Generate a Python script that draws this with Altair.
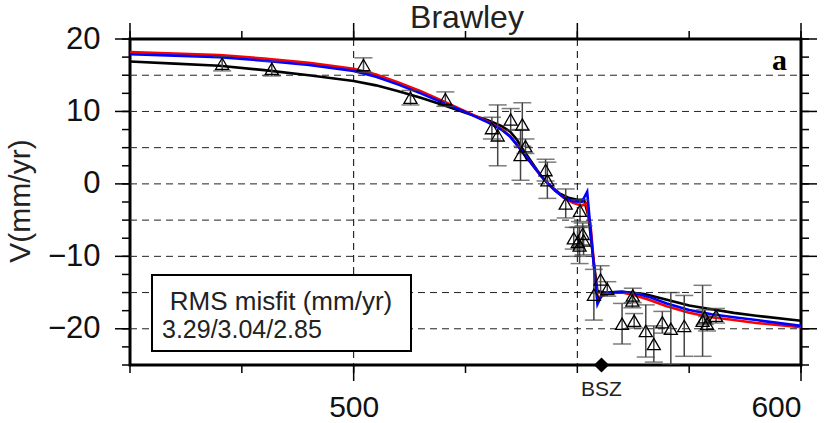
import altair as alt
import pandas as pd

# ---------------- data ----------------
TITLE = ["Brawley"]
Y_TITLE = ["V(mm/yr)"]
PANEL = ["a"]
BOX_HEAD = ["RMS misfit (mm/yr)"]
BOX_VALUES = ["3.29/3.04/2.85"]
BSZ_X = [555.4]
BSZ_LABEL = ["BSZ"]

obs_x = [470.6, 481.7, 502.2, 512.7, 520.5, 530.9, 532.2, 535.1, 537.7, 537.3,
         538.4, 542.9, 543.3, 547.4, 550.6, 549.2, 550.1, 551.2, 551.4, 550.5,
         553.7, 555.2, 556.7, 560.0, 562.7, 562.3, 562.4, 565.3, 567.1, 569.0,
         570.9, 573.9, 578.0, 578.5, 579.0, 581.0]
obs_v = [16.6, 15.9, 16.4, 11.9, 11.7, 7.7, 6.7, 8.9, 8.2, 4.0,
         5.2, 1.9, 0.5, -2.7, -3.7, -7.5, -8.0, -6.9, -7.8, -8.5,
         -15.3, -13.2, -14.5, -19.3, -18.9, -16.1, -15.4, -20.3, -22.1, -19.1,
         -20.0, -19.6, -18.9, -18.4, -19.3, -18.2]
obs_err = [1.0, 1.0, 1.0, 1.0, 1.0, 1.5, 4.2, 1.5, 3.0, 3.5,
           1.0, 1.5, 2.5, 2.0, 1.5, 1.5, 2.0, 1.5, 2.0, 2.5,
           3.5, 1.9, 1.0, 2.8, 1.0, 1.0, 1.0, 3.6, 2.5, 1.5,
           5.0, 4.2, 4.9, 1.0, 1.0, 1.0]

red_x = [450, 460, 470, 480, 490, 500, 505, 510, 515, 520, 525, 530, 533, 535, 537,
         539, 541, 543, 545, 547, 549, 551, 552, 553, 554, 554.6, 555.5, 557, 560,
         563, 566, 570, 575, 580, 585, 590, 600]
red_v = [18.2, 18.0, 17.8, 17.3, 16.7, 15.9, 15.1, 14.0, 12.8, 11.4, 10.0, 8.6, 7.6, 6.6, 5.0,
         3.4, 1.8, 0.3, -0.9, -1.9, -2.6, -3.0, -2.7, -6.0, -13.0, -16.0, -15.5, -15.1, -15.0,
         -15.4, -16.0, -16.9, -17.8, -18.4, -18.8, -19.2, -19.8]

blue_x = [450, 460, 470, 480, 490, 500, 505, 510, 515, 520, 525, 530, 533, 535, 537,
          539, 541, 543, 545, 547, 549, 551, 552.2, 553.3, 554.5, 555.5, 557, 560,
          563, 566, 570, 575, 580, 585, 590, 600]
blue_v = [17.9, 17.7, 17.5, 17.0, 16.4, 15.6, 14.8, 13.7, 12.5, 11.2, 9.9, 8.5, 7.5, 6.5, 5.0,
          3.4, 1.8, 0.3, -0.9, -1.9, -2.4, -2.5, -1.1, -8.7, -16.6, -15.3, -15.0, -14.9,
          -15.1, -15.6, -16.5, -17.4, -18.0, -18.4, -18.8, -19.6]

black_x = [450, 460, 470, 480, 490, 500, 505, 510, 515, 520, 525, 530, 533, 535, 536.5,
           538, 540, 542, 544, 546, 548, 550, 551.5, 552.5, 553.5, 554.5, 556, 560,
           565, 570, 575, 580, 585, 590, 600]
black_v = [16.9, 16.6, 16.3, 15.7, 15.0, 14.2, 13.6, 12.8, 11.9, 10.9, 9.8, 8.8, 8.0, 7.2, 6.1,
           4.6, 2.8, 1.0, -0.3, -1.3, -1.9, -2.2, -2.2, -4.5, -10.0, -14.8, -15.0, -14.9,
           -15.2, -16.0, -16.8, -17.3, -17.8, -18.2, -18.9]

x_ticks = [450, 475, 500, 525, 550, 575, 600]
x_labels = [500, 600]
x_top_major = [450, 500, 550, 600]
x_grid = [500, 550]
y_ticks = [-25, -22.5, -20, -17.5, -15, -12.5, -10, -7.5, -5, -2.5, 0,
           2.5, 5, 7.5, 10, 12.5, 15, 17.5, 20]
y_labels = [-20, -10, 0, 10, 20]
y_grid = [-20, -15, -10, -5, 0, 5, 10, 15]

# ---------------- layout ----------------
W, H = 671, 326
FONT = "Liberation Sans"

x_scale = alt.Scale(domain=[450, 600], nice=False, zero=False)
y_scale = alt.Scale(domain=[-25, 20], nice=False, zero=False)

x_axis = alt.Axis(values=x_labels, grid=False, ticks=False, tickSize=0, domain=False,
                  labelPadding=27, labelFontSize=30, labelFont=FONT, labelColor="#111",
                  title=None)
y_axis = alt.Axis(values=y_labels, grid=False, ticks=False, tickSize=0, domain=False,
                  labelPadding=30, labelFontSize=31, labelFont=FONT, labelColor="#111",
                  title=None)


def X(field):
    return alt.X(f"{field}:Q", scale=x_scale, axis=x_axis)


def Y(field):
    return alt.Y(f"{field}:Q", scale=y_scale, axis=y_axis)


# dashed grid
hgrid = alt.Chart(pd.DataFrame({"v": y_grid})).mark_rule(
    color="#222", strokeWidth=1, strokeDash=[7, 5]).encode(
    y=Y("v"), x=alt.value(0), x2=alt.value(W))
vgrid = alt.Chart(pd.DataFrame({"x": x_grid})).mark_rule(
    color="#000", strokeWidth=1, strokeDash=[7, 5]).encode(
    x=X("x"), y=alt.value(0), y2=alt.value(H))

obs = pd.DataFrame({"x": obs_x, "v": obs_v, "err": obs_err})
obs["lo"] = obs["v"] - obs["err"]
obs["hi"] = obs["v"] + obs["err"]

base_obs = alt.Chart(obs)
err_rule = base_obs.mark_rule(color="#444", strokeWidth=1.5, clip=True).encode(
    x=X("x"), y=Y("lo"), y2="hi")
cap_lo = base_obs.mark_tick(orient="horizontal", size=18, thickness=1.5, color="#444",
                            clip=True).encode(x=X("x"), y=Y("lo"))
cap_hi = base_obs.mark_tick(orient="horizontal", size=18, thickness=1.5, color="#444",
                            clip=True).encode(x=X("x"), y=Y("hi"))
tri = base_obs.mark_point(shape="triangle-up", size=170, filled=False, color="#000",
                          strokeWidth=1.3, opacity=1).encode(x=X("x"), y=Y("v"))


def model_line(xs, vs, color):
    df = pd.DataFrame({"x": xs, "v": vs, "i": range(len(xs))})
    return alt.Chart(df).mark_line(color=color, strokeWidth=2.6, clip=True).encode(
        x=X("x"), y=Y("v"), order="i:Q")


black_line = model_line(black_x, black_v, "#000000")
red_line = model_line(red_x, red_v, "#ff0000")
blue_line = model_line(blue_x, blue_v, "#0000ff")

# frame ticks
TW = 1.5
bot_major = alt.Chart(pd.DataFrame({"x": x_labels})).mark_rule(color="#000", strokeWidth=TW).encode(
    x=X("x"), y=alt.value(H), y2=alt.value(H + 16))
bot_minor = alt.Chart(pd.DataFrame({"x": x_ticks})).mark_rule(color="#000", strokeWidth=TW).encode(
    x=X("x"), y=alt.value(H), y2=alt.value(H + 8))
top_major = alt.Chart(pd.DataFrame({"x": x_top_major})).mark_rule(color="#000", strokeWidth=TW).encode(
    x=X("x"), y=alt.value(-16), y2=alt.value(0))
top_minor = alt.Chart(pd.DataFrame({"x": x_ticks})).mark_rule(color="#000", strokeWidth=TW).encode(
    x=X("x"), y=alt.value(-8), y2=alt.value(0))
left_major = alt.Chart(pd.DataFrame({"v": y_labels})).mark_rule(color="#000", strokeWidth=TW).encode(
    y=Y("v"), x=alt.value(-15), x2=alt.value(0))
left_minor = alt.Chart(pd.DataFrame({"v": y_ticks})).mark_rule(color="#000", strokeWidth=TW).encode(
    y=Y("v"), x=alt.value(-8), x2=alt.value(0))
right_major = alt.Chart(pd.DataFrame({"v": y_labels})).mark_rule(color="#000", strokeWidth=TW).encode(
    y=Y("v"), x=alt.value(W), x2=alt.value(W + 16))
right_minor = alt.Chart(pd.DataFrame({"v": y_ticks})).mark_rule(color="#000", strokeWidth=TW).encode(
    y=Y("v"), x=alt.value(W), x2=alt.value(W + 8))

# BSZ marker
bsz = pd.DataFrame({"x": BSZ_X, "v": [-25], "t": BSZ_LABEL})
bsz_pt = alt.Chart(bsz).mark_point(shape="diamond", size=230, filled=True, color="#000",
                                   opacity=1).encode(x=X("x"), y=Y("v"))
bsz_txt = alt.Chart(bsz).mark_text(fontSize=21, font=FONT, color="#222", align="center",
                                   baseline="alphabetic").encode(
    x=X("x"), y=alt.value(356.5), text="t:N")

# RMS box
box = alt.Chart(pd.DataFrame({"t": BOX_HEAD})).mark_rect(
    fill="white", stroke="#000", strokeWidth=2).encode(
    x=alt.value(22), x2=alt.value(281), y=alt.value(236), y2=alt.value(312))
box_t1 = alt.Chart(pd.DataFrame({"t": BOX_HEAD})).mark_text(
    fontSize=26, font=FONT, color="#222", align="center", baseline="alphabetic").encode(
    x=alt.value(151), y=alt.value(271), text="t:N")
box_t2 = alt.Chart(pd.DataFrame({"t": BOX_VALUES})).mark_text(
    fontSize=25, font=FONT, color="#222", align="left", baseline="alphabetic").encode(
    x=alt.value(32), y=alt.value(299), text="t:N")

# texts
title_txt = alt.Chart(pd.DataFrame({"t": TITLE})).mark_text(
    fontSize=32, font=FONT, color="#222", align="center", baseline="alphabetic").encode(
    x=alt.value(337), y=alt.value(-11), text="t:N")
ytitle_txt = alt.Chart(pd.DataFrame({"t": Y_TITLE})).mark_text(
    fontSize=30, font=FONT, color="#222", align="center", baseline="alphabetic", angle=270).encode(
    x=alt.value(-100), y=alt.value(162), text="t:N")
panel_txt = alt.Chart(pd.DataFrame({"t": PANEL})).mark_text(
    fontSize=30, font="Liberation Serif", fontWeight="bold", color="#000", align="right",
    baseline="alphabetic").encode(x=alt.value(657), y=alt.value(31), text="t:N")

chart = alt.layer(
    hgrid, vgrid,
    black_line, red_line, blue_line,
    err_rule, cap_lo, cap_hi, tri,
    box, box_t1, box_t2,
    bot_major, bot_minor, top_major, top_minor,
    left_major, left_minor, right_major, right_minor,
    bsz_pt, bsz_txt, title_txt, ytitle_txt, panel_txt,
).properties(
    width=W, height=H,
    background="white",
    autosize=alt.AutoSizeParams(type="none"),
    padding={"left": 130, "top": 39, "right": 31, "bottom": 58},
).configure_view(
    stroke="#000", strokeWidth=3
)

chart.save("out.html", embed_options={"renderer": "svg", "actions": False})
